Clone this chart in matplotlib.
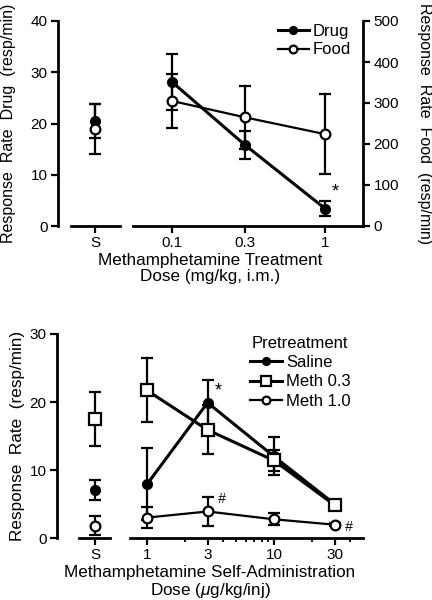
import matplotlib.pyplot as plt
from matplotlib.lines import Line2D
from matplotlib.ticker import FixedLocator, NullFormatter, FixedFormatter

plt.rcParams['font.family'] = ['Liberation Sans', 'DejaVu Sans']
plt.rcParams['mathtext.fontset'] = 'custom'
plt.rcParams['mathtext.rm'] = 'Liberation Sans'
plt.rcParams['mathtext.it'] = 'Liberation Sans:italic'

# ---- top panel data: methamphetamine treatment (mg/kg) ----
treat_doses = [0.1, 0.3, 1]
treat_labels = ["0.1", "0.3", "1"]
drug_sal, drug_sal_err = 20.5, 3.3
drug_mean = [28.1, 15.8, 3.4]
drug_err = [5.4, 2.8, 1.4]
food_sal, food_sal_err = 236, 61
food_mean = [305, 265, 224]
food_err = [65, 76, 97]

# ---- bottom panel data: self-administration dose (ug/kg/inj) ----
sa_doses = [1, 3, 10, 30]
sa_labels = ["1", "3", "10", "30"]
saline_S, saline_S_err = 7.1, 1.45
saline = [7.9, 19.9, 12.0, 5.0]
saline_err = [5.3, 3.3, 2.8, 0.3]
meth03_S, meth03_S_err = 17.5, 3.9
meth03 = [21.7, 15.9, 11.4, 4.85]
meth03_err = [4.7, 3.6, 1.6, 0.3]
meth10_S, meth10_S_err = 1.8, 1.4
meth10 = [3.0, 3.9, 2.75, 1.96]
meth10_err = [1.6, 2.1, 0.9, 0.2]

W, H = 432, 600
fig = plt.figure(figsize=(W / 100, H / 100), dpi=100)

LW = 2.2
SPW = 2.0
FS_TICK = 11
FS_LAB = 12.3
FS_YLAB = 11.5
FS_LEG = 12


def px_axes(x0, y0, x1, y1):
    return fig.add_axes([x0 / W, 1 - y1 / H, (x1 - x0) / W, (y1 - y0) / H])


def style(ax):
    for s in ax.spines.values():
        s.set_linewidth(SPW)
    ax.tick_params(direction="out", width=1.6, length=5, labelsize=FS_TICK, pad=2.5)
    ax.tick_params(which="minor", direction="out", width=1.3, length=3)


filled = dict(marker="o", ms=7, mfc="black", mec="black", color="black")
hollow = dict(marker="o", ms=7, mfc="white", mec="black", mew=1.6, color="black")
square = dict(marker="s", ms=8.5, mfc="white", mec="black", mew=1.6, color="black")
eb = dict(capsize=4.3, elinewidth=1.6, capthick=1.6, ecolor="black")


def handle(style_kw, lw):
    kw = dict(style_kw)
    kw["ms"] = kw["ms"] * 0.8
    return Line2D([], [], lw=lw, **kw)


# ================= TOP PANEL =================
S_top = 0.597
axs = px_axes(58, 21, 120, 226)
style(axs)
axs.set_xlim(0, 1)
axs.set_ylim(0, 40)
axs.spines["top"].set_visible(False)
axs.spines["right"].set_visible(False)
axs.spines["bottom"].set_bounds(0.21, 1.0)
axs.set_xticks([S_top])
axs.set_xticklabels(["S"])
axs.set_yticks([0, 10, 20, 30, 40])
axs2 = axs.twinx()
axs2.set_ylim(0, 500)
axs2.axis("off")
axs.errorbar([S_top], [drug_sal], yerr=[drug_sal_err], lw=0, zorder=3, **filled, **eb)
axs2.errorbar([S_top], [food_sal], yerr=[food_sal_err], lw=0, zorder=3, **hollow, **eb)
axs.set_ylabel("Response  Rate  Drug  (resp/min)", fontsize=FS_YLAB)
axs.yaxis.set_label_coords(-0.67, 0.5)

ax = px_axes(133, 21, 363, 226)
style(ax)
ax.set_xscale("log")
ax.set_xlim(0.0556, 1.77)
ax.set_ylim(0, 40)
for s in ["top", "left", "right"]:
    ax.spines[s].set_visible(False)
ax.set_yticks([])
ax.xaxis.set_major_locator(FixedLocator(treat_doses))
ax.xaxis.set_major_formatter(FixedFormatter(treat_labels))
ax.xaxis.set_minor_locator(FixedLocator([]))
ax.xaxis.set_minor_formatter(NullFormatter())
ax.errorbar(treat_doses, drug_mean, yerr=drug_err, lw=LW, **filled, **eb)
ax.annotate("*", xy=(treat_doses[2], drug_mean[2]), xytext=(7, 6),
            textcoords="offset points", fontsize=13, ha="center", va="bottom")

axr = ax.twinx()
style(axr)
axr.set_ylim(0, 500)
for s in ["top", "left", "bottom"]:
    axr.spines[s].set_visible(False)
axr.set_yticks([0, 100, 200, 300, 400, 500])
axr.errorbar(treat_doses, food_mean, yerr=food_err, lw=1.6, **hollow, **eb)
axr.set_ylabel("Response  Rate  Food  (resp/min)", fontsize=FS_YLAB, rotation=-90)
axr.yaxis.set_label_coords(1.30, 0.5)

axr.legend([handle(filled, LW), handle(hollow, 1.6)], ["Drug", "Food"],
           loc="upper left", bbox_to_anchor=(0.63, 0.985),
           frameon=False, fontsize=FS_LEG, handlelength=1.85, handletextpad=0.25,
           labelspacing=0.2, borderpad=0, borderaxespad=0)

fig.text(210 / W, 1 - 260 / H, "Methamphetamine Treatment", ha="center", va="center", fontsize=FS_LAB)
fig.text(210 / W, 1 - 277 / H, "Dose (mg/kg, i.m.)", ha="center", va="center", fontsize=FS_LAB)

# ================= BOTTOM PANEL =================
S_bot = 0.717
bs = px_axes(57, 334, 110, 538)
style(bs)
bs.set_xlim(0, 1)
bs.set_ylim(0, 30)
bs.spines["top"].set_visible(False)
bs.spines["right"].set_visible(False)
bs.spines["bottom"].set_bounds(0.415, 1.0)
bs.set_xticks([S_bot])
bs.set_xticklabels(["S"])
bs.set_yticks([0, 10, 20, 30])
bs.errorbar([S_bot], [meth03_S], yerr=[meth03_S_err], lw=0, zorder=3, **square, **eb)
bs.errorbar([S_bot], [saline_S], yerr=[saline_S_err], lw=0, zorder=3, **filled, **eb)
bs.errorbar([S_bot], [meth10_S], yerr=[meth10_S_err], lw=0, zorder=3, **hollow, **eb)
bs.set_ylabel("Response  Rate  (resp/min)", fontsize=FS_LAB)
bs.yaxis.set_label_coords(-0.6, 0.5)

bx = px_axes(130, 334, 363, 538)
style(bx)
bx.set_xscale("log")
bx.set_xlim(0.735, 50.3)
bx.set_ylim(0, 30)
for s in ["top", "left", "right"]:
    bx.spines[s].set_visible(False)
bx.set_yticks([])
bx.xaxis.set_major_locator(FixedLocator(sa_doses))
bx.xaxis.set_major_formatter(FixedFormatter(sa_labels))
bx.xaxis.set_minor_locator(FixedLocator([2, 4, 5, 6, 7, 8, 9, 20, 40]))
bx.xaxis.set_minor_formatter(NullFormatter())
bx.errorbar(sa_doses, saline, yerr=saline_err, lw=LW, **filled, **eb)
bx.errorbar(sa_doses, meth03, yerr=meth03_err, lw=LW, **square, **eb)
bx.errorbar(sa_doses, meth10, yerr=meth10_err, lw=1.6, **hollow, **eb)
bx.annotate("*", xy=(sa_doses[1], saline[1]), xytext=(8, 2),
            textcoords="offset points", fontsize=13, ha="center", va="bottom")
bx.annotate("#", xy=(sa_doses[1], meth10[1]), xytext=(10, 9),
            textcoords="offset points", fontsize=10, ha="center", va="center", style="italic")
bx.annotate("#", xy=(sa_doses[3], meth10[3]), xytext=(10, -2),
            textcoords="offset points", fontsize=10, ha="center", va="center", style="italic")
bx.legend([handle(filled, LW), handle(square, LW), handle(hollow, 1.6)],
          ["Saline", "Meth 0.3", "Meth 1.0"],
          loc="upper left", bbox_to_anchor=(0.515, 0.99), title="Pretreatment",
          frameon=False, fontsize=FS_LEG, title_fontsize=FS_LEG, handlelength=1.9,
          handletextpad=0.25, labelspacing=0.25, borderpad=0, borderaxespad=0)

fig.text(210 / W, 1 - 573 / H, "Methamphetamine Self-Administration", ha="center", va="center", fontsize=FS_LAB)
fig.text(210 / W, 1 - 590 / H, r"Dose ($\mathit{\mu}$g/kg/inj)", ha="center", va="center", fontsize=FS_LAB)

fig.savefig("out.png", dpi=100)
